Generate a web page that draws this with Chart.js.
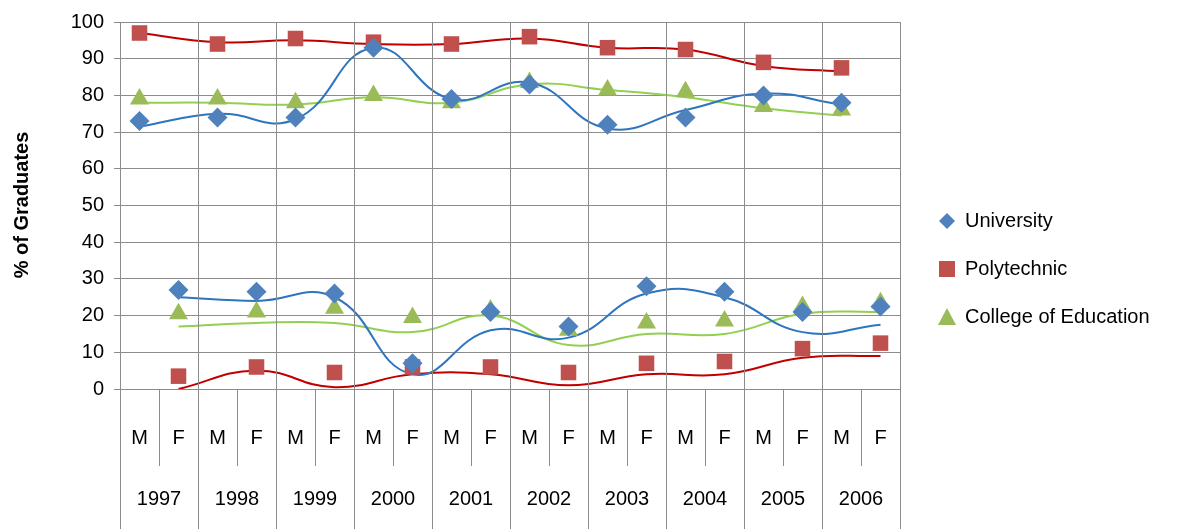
<!DOCTYPE html>
<html><head><meta charset="utf-8">
<script src="https://cdn.jsdelivr.net/npm/chart.js@4"></script>
<style>html,body{margin:0;padding:0;background:#fff}#w{width:1196px;height:529px}</style>
</head><body><div id="w"><canvas id="c"></canvas></div>
<script>
const years=['1997','1998','1999','2000','2001','2002','2003','2004','2005','2006'];
const sexes=['M','F'];
const yTicks=[0,10,20,30,40,50,60,70,80,90,100];
const uniM=[73,74,74,93,79,83,72,74,80,78];
const uniF=[27,26.5,26,7,21,17,28,26.5,21,22.5];
const polyM=[97,94,95.5,94.5,94,96,93,92.5,89,87.5];
const polyF=[3.5,6,4.5,6,6,4.5,7,7.5,11,12.5];
const colM=[79,79,78,80,78,83.5,81.5,81,77,76];
const colF=[20.5,21,22,19.5,21.5,16,18,18.5,22.5,23.5];
// trend lines
const uniMTrend=[71.5,75,73.5,93,79,83.5,71,76,80.5,77.5];
const uniFTrend=[25,24,25,4,16,14,26,25,15.5,17.5];
const polyMTrend=[97,94.5,95,94,94,95.5,93,92.5,88,86.5];
const polyFTrend=[0,5,0.5,4,4,1,4,4,8.5,9];
const colMTrend=[78,78,77.5,79.5,78,83,81.5,79.5,76.5,74.5];
const colFTrend=[17,18,18,15.5,20,12,15,15,20.5,21];

const labels=[];years.forEach(y=>sexes.forEach(s=>labels.push(s+' '+y)));
const inter=(m,f)=>{const a=[];for(let i=0;i<m.length;i++){a.push(m[i]);a.push(f[i]);}return a;};
const onlyM=m=>{const a=[];m.forEach(v=>{a.push(v);a.push(null);});return a;};
const onlyF=f=>{const a=[];f.forEach(v=>{a.push(null);a.push(v);});return a;};
const C={u:'#4f81bd',p:'#c0504d',c:'#9bbb59'};
const L={u:'#2e75c0',p:'#c00000',c:'#92d050'};
const pts=(lab,m,f,col,style,r)=>({label:lab,data:inter(m,f),showLine:false,pointStyle:style,pointRadius:r,pointHoverRadius:r,backgroundColor:col,borderColor:col,pointBorderWidth:0,order:1});
const ln=(d,col)=>({label:'',data:d,spanGaps:true,borderColor:col,borderWidth:2,pointRadius:0,tension:0.45,cubicInterpolationMode:'default',order:2});
const fontF='"Liberation Sans", Arial, sans-serif';

const deco={id:'deco',afterDraw(ch){
 const c=ch.ctx,x=ch.scales.x,a=ch.chartArea;
 c.save();
 c.strokeStyle='#8c8c8c';c.lineWidth=1;
 const step=x.getPixelForValue(1)-x.getPixelForValue(0);
 for(let i=0;i<=20;i++){
  const px=Math.round(x.getPixelForValue(0)-step/2+i*step)+0.5;
  c.beginPath();
  if(i%2===0){c.moveTo(px,a.top);c.lineTo(px,529);}
  else{c.moveTo(px,a.bottom);c.lineTo(px,466);}
  c.stroke();
 }
 c.fillStyle='#000';c.font='20px '+fontF;c.textAlign='center';c.textBaseline='middle';
 for(let i=0;i<20;i++){c.fillText(sexes[i%2],x.getPixelForValue(i),438);}
 years.forEach((y,k)=>{c.fillText(y,(x.getPixelForValue(2*k)+x.getPixelForValue(2*k+1))/2,499);});
 c.save();c.translate(22,205);c.rotate(-Math.PI/2);c.font='bold 20px '+fontF;c.fillText('% of Graduates',0,0);c.restore();
 const items=[['University',C.u,'d'],['Polytechnic',C.p,'s'],['College of Education',C.c,'t']];
 c.textAlign='left';c.font='20px '+fontF;
 items.forEach((it,k)=>{const y=221+k*48,cx=947;c.fillStyle=it[1];c.beginPath();
  if(it[2]==='d'){c.moveTo(cx,y-8);c.lineTo(cx+8,y);c.lineTo(cx,y+8);c.lineTo(cx-8,y);}
  else if(it[2]==='s'){c.rect(cx-8,y-8,16,16);}
  else{c.moveTo(cx,y-9);c.lineTo(cx+9,y+8);c.lineTo(cx-9,y+8);}
  c.fill();c.fillStyle='#000';c.fillText(it[0],965,y);});
 c.restore();
}};

new Chart(document.getElementById('c'),{type:'line',
 data:{labels,datasets:[
  pts('University',uniM,uniF,C.u,'rectRot',10),
  pts('Polytechnic',polyM,polyF,C.p,'rect',11),
  pts('College of Education',colM,colF,C.c,'triangle',11),
  ln(onlyM(uniMTrend),L.u),ln(onlyF(uniFTrend),L.u),
  ln(onlyM(polyMTrend),L.p),ln(onlyF(polyFTrend),L.p),
  ln(onlyM(colMTrend),L.c),ln(onlyF(colFTrend),L.c)]},
 options:{responsive:true,maintainAspectRatio:false,animation:false,
  layout:{padding:{top:22,right:296,bottom:132,left:0}},
  plugins:{legend:{display:false},tooltip:{enabled:false}},
  scales:{
   x:{offset:true,ticks:{display:false},grid:{display:false},border:{display:false}},
   y:{min:0,max:100,afterFit:s=>{s.width=120;},
    afterBuildTicks:s=>{s.ticks=yTicks.map(v=>({value:v}));},
    ticks:{color:'#000',font:{size:20,family:fontF},padding:10},
    grid:{color:'#8c8c8c',drawTicks:true,tickLength:6},border:{color:'#8c8c8c'}}}},
 plugins:[deco]});
</script></body></html>
